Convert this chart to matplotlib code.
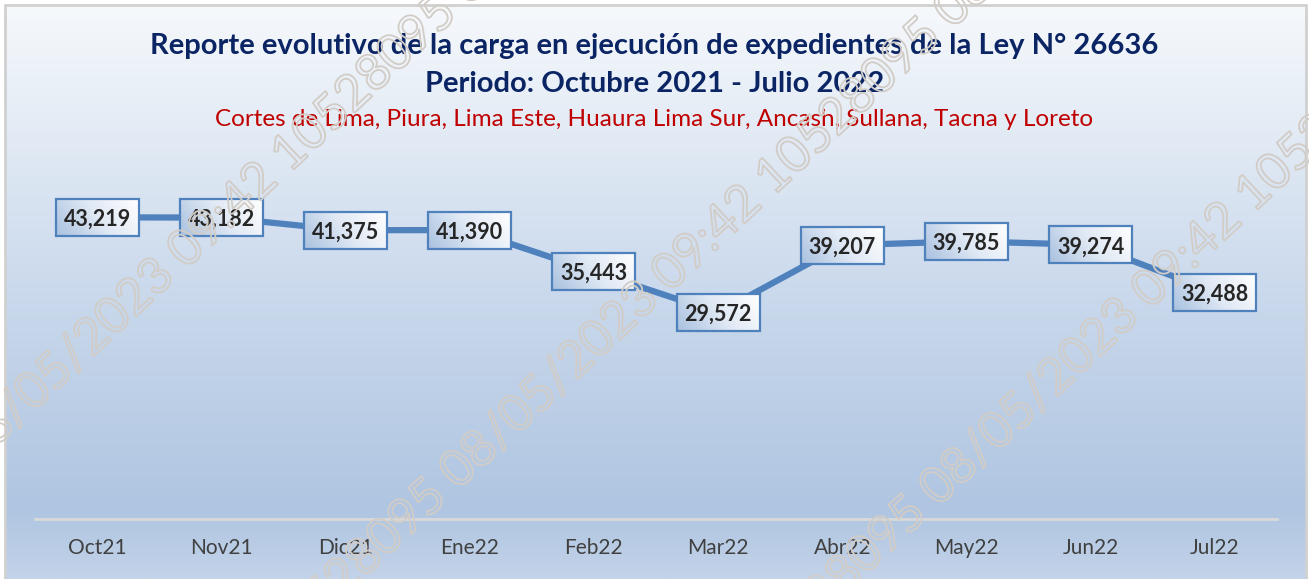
import numpy as np
import matplotlib
matplotlib.use("Agg")
import matplotlib.pyplot as plt
import matplotlib.patheffects as pe
from matplotlib.colors import LinearSegmentedColormap
from matplotlib.patches import Rectangle

months = ["Oct21", "Nov21", "Dic21", "Ene22", "Feb22", "Mar22", "Abr22", "May22", "Jun22", "Jul22"]
values = [43219, 43182, 41375, 41390, 35443, 29572, 39207, 39785, 39274, 32488]

title1 = "Reporte evolutivo de la carga en ejecución de expedientes de la Ley N° 26636"
title2 = "Periodo: Octubre 2021 - Julio 2022"
subtitle = "Cortes de Lima, Piura, Lima Este, Huaura Lima Sur, Ancash, Sullana, Tacna y Loreto"
wm_before = "10528095 08/05/2023 "
wm_after = "09:42 10528095 08/05/2023"

plt.rcParams['font.family'] = ['Lato', 'DejaVu Sans']

W, H = 1309, 579
fig = plt.figure(figsize=(W / 100, H / 100), dpi=100)
fig.patch.set_facecolor("white")

# background gradient panel
bg = fig.add_axes([5 / W, 0, (1306 - 5) / W, (H - 5) / H])
bg.set_axis_off()
stops = [(0.0, "#c3d3e9"), (0.12, "#afc5e1"), (0.5, "#cad9ec"), (1.0, "#f6f9fc")]
cmap_bg = LinearSegmentedColormap.from_list("bg", stops)
grad = np.linspace(0, 1, 512).reshape(-1, 1)
bg.imshow(grad, aspect="auto", cmap=cmap_bg, origin="lower", extent=[0, 1, 0, 1])
bg.set_xlim(0, 1); bg.set_ylim(0, 1)
bg.add_patch(Rectangle((0, -0.1), 1, 1.1, fill=False, edgecolor="#d0d0d0", lw=2,
                       transform=bg.transAxes, clip_on=False))

# main plot
ax_left, ax_right = 35 / W, 1277 / W
ax_bottom, ax_top = (H - 519) / H, (H - 170) / H
ax = fig.add_axes([ax_left, ax_bottom, ax_right - ax_left, ax_top - ax_bottom])
ax.patch.set_alpha(0)
x = np.arange(len(months))
for s in ax.spines.values():
    s.set_visible(False)
ax.axhline(0, color="#d9d9d9", lw=2, zorder=1, clip_on=False)
ax.set_yticks([])
ax.set_xticks(x)
ax.set_xticklabels(months, fontsize=15, color="#404040")
ax.tick_params(axis="x", length=0, pad=14)

ax.plot(x, values, color="#4f81bd", lw=4.5, zorder=2, solid_capstyle="butt")

# label boxes
px_per_x = (1277 - 35) / len(months)
px_per_y = 349 / 50000
bw = 83 / px_per_x
bh = 37 / px_per_y
cmap_box = LinearSegmentedColormap.from_list("box", ["#a9c1df", "#dfe8f4", "#ffffff"])
gx, gy = np.meshgrid(np.linspace(0, 1, 64), np.linspace(0, 1, 32))
gbox = 0.75 * gx + 0.25 * (1 - gy)
for xi, v in zip(x, values):
    x0, y0 = xi - bw / 2, v - bh / 2
    ax.imshow(gbox, cmap=cmap_box, aspect="auto", origin="upper",
              extent=[x0, x0 + bw, y0, y0 + bh], zorder=3, interpolation="bilinear")
    ax.add_patch(Rectangle((x0, y0), bw, bh, fill=False, edgecolor="#4f81bd", lw=1.6, zorder=4))
    ax.text(xi, v, f"{v:,}", ha="center", va="center_baseline", fontsize=15.5,
            fontweight="bold", color="#262626", zorder=5)
ax.set_xlim(-0.5, len(months) - 0.5)
ax.set_ylim(0, 50000)

fig.text(0.5, 1 - 46 / H, title1, ha="center", va="center", fontsize=21,
         fontweight="bold", color="#0a2464")
fig.text(0.5, 1 - 84 / H, title2, ha="center", va="center", fontsize=21,
         fontweight="bold", color="#0a2464")
fig.text(0.5, 1 - 120 / H, subtitle, ha="center", va="center", fontsize=17.5,
         color="#c00000")

# watermark (outlined diagonal text)
wm_fx = [pe.Stroke(linewidth=1.3, foreground="#d2ccc6")]
for px, py in [(186, 270), (670, 293), (1150, 310)]:
    for s, ha in [(wm_before, "right"), (wm_after, "left")]:
        fig.text(px / W, 1 - py / H, s, ha=ha, va="baseline", rotation=43,
                 rotation_mode="anchor", fontsize=36, color=(1, 1, 1, 0),
                 path_effects=wm_fx, zorder=20)

fig.savefig("out.png", dpi=100)
